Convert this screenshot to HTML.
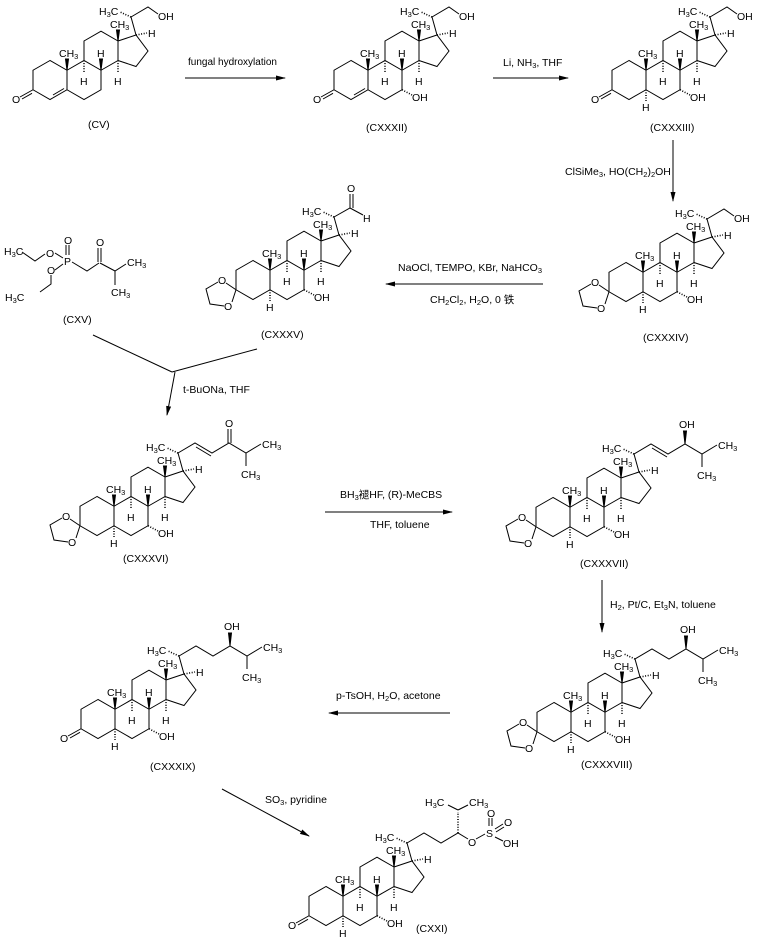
<!DOCTYPE html>
<html><head><meta charset="utf-8"><style>
html,body{margin:0;padding:0;background:#fff;}
svg{display:block;font-family:"Liberation Sans","Noto Sans CJK SC",sans-serif;font-size:10.5px;}
.b{fill:none;stroke:#000;stroke-width:1;}
.w{fill:#000;stroke:#000;stroke-width:1;}
.h{fill:none;stroke:#000;stroke-width:1.6;stroke-dasharray:1 1.6;}
.s{font-size:7.5px;}
text{fill:#000;}
.a{fill:none;stroke:#000;stroke-width:1;marker-end:url(#ah);}
</style></head><body>
<svg width="761" height="945" viewBox="0 0 761 945" xmlns="http://www.w3.org/2000/svg">
<defs><marker id="ah" markerWidth="10" markerHeight="6" refX="9" refY="3" orient="auto" markerUnits="userSpaceOnUse"><path d="M0,0.5L10,3L0,5.5Z" fill="#000"/></marker></defs>

<!-- CV -->
<g transform="translate(50,80)">
<path class="b" d="M0,-19.5L-17,-9.75L-17,9.75L0,19.5L17,9.75L17,-9.75ZM17,9.75L34,19.5L51,9.75L51,-9.75L34,-19.5L17,-9.75M34,-19.5L34,-39L51,-48.75L68,-39L68,-19.5L51,-9.75M68,-39L86,-45L98,-29L86,-13.5L68,-19.5M86,-45L81,-63"/>
<path class="w" d="M17,-9.75L15.5,-21L18.5,-21ZM68,-39L66.5,-50L69.5,-50ZM51,-9.75L49.5,-21L52.5,-21Z"/>
<path class="h" d="M34,-19.5V-8M68,-19.5V-8M86,-45L97,-47M81,-63L70,-68"/>
<text x="9" y="-23">CH<tspan class="s" dy="2">3</tspan></text><text x="60" y="-52">CH<tspan class="s" dy="2">3</tspan></text>
<text x="47" y="-23">H</text><text x="30" y="5">H</text><text x="64" y="5">H</text><text x="98" y="-43">H</text>
<text x="49" y="-65">H<tspan class="s" dy="2">3</tspan><tspan dy="-2">C</tspan></text>
<path class="b" d="M3,15L14,8.5M-17,9.75L-30,17M-18,13.3L-28,19M81,-63L98,-73L108,-66"/>
<text x="-38" y="23">O</text><text x="108" y="-60">OH</text>
</g>
<text x="88" y="128">(CV)</text>

<!-- CXXXII -->
<g transform="translate(351,80)">
<path class="b" d="M0,-19.5L-17,-9.75L-17,9.75L0,19.5L17,9.75L17,-9.75ZM17,9.75L34,19.5L51,9.75L51,-9.75L34,-19.5L17,-9.75M34,-19.5L34,-39L51,-48.75L68,-39L68,-19.5L51,-9.75M68,-39L86,-45L98,-29L86,-13.5L68,-19.5M86,-45L81,-63"/>
<path class="w" d="M17,-9.75L15.5,-21L18.5,-21ZM68,-39L66.5,-50L69.5,-50ZM51,-9.75L49.5,-21L52.5,-21Z"/>
<path class="h" d="M34,-19.5V-8M68,-19.5V-8M86,-45L97,-47M81,-63L70,-68M51,9.75L61,15"/>
<text x="9" y="-23">CH<tspan class="s" dy="2">3</tspan></text><text x="60" y="-52">CH<tspan class="s" dy="2">3</tspan></text>
<text x="47" y="-23">H</text><text x="30" y="5">H</text><text x="64" y="5">H</text><text x="98" y="-43">H</text>
<text x="49" y="-65">H<tspan class="s" dy="2">3</tspan><tspan dy="-2">C</tspan></text>
<path class="b" d="M3,15L14,8.5M-17,9.75L-30,17M-18,13.3L-28,19M81,-63L98,-73L108,-66"/>
<text x="-38" y="23">O</text><text x="108" y="-60">OH</text><text x="61" y="21">OH</text>
</g>
<text x="366" y="131">(CXXXII)</text>

<!-- CXXXIII -->
<g transform="translate(629,80)">
<path class="b" d="M0,-19.5L-17,-9.75L-17,9.75L0,19.5L17,9.75L17,-9.75ZM17,9.75L34,19.5L51,9.75L51,-9.75L34,-19.5L17,-9.75M34,-19.5L34,-39L51,-48.75L68,-39L68,-19.5L51,-9.75M68,-39L86,-45L98,-29L86,-13.5L68,-19.5M86,-45L81,-63"/>
<path class="w" d="M17,-9.75L15.5,-21L18.5,-21ZM68,-39L66.5,-50L69.5,-50ZM51,-9.75L49.5,-21L52.5,-21Z"/>
<path class="h" d="M34,-19.5V-8M68,-19.5V-8M86,-45L97,-47M81,-63L70,-68M51,9.75L61,15M17,9.75V21"/>
<text x="9" y="-23">CH<tspan class="s" dy="2">3</tspan></text><text x="60" y="-52">CH<tspan class="s" dy="2">3</tspan></text>
<text x="47" y="-23">H</text><text x="30" y="5">H</text><text x="64" y="5">H</text><text x="98" y="-43">H</text>
<text x="49" y="-65">H<tspan class="s" dy="2">3</tspan><tspan dy="-2">C</tspan></text>
<path class="b" d="M-17,9.75L-30,17M-18,13.3L-28,19M81,-63L98,-73L108,-66"/>
<text x="-38" y="23">O</text><text x="108" y="-60">OH</text><text x="61" y="21">OH</text><text x="13" y="31">H</text>
</g>
<text x="650" y="131">(CXXXIII)</text>

<!-- CXXXIV -->
<g transform="translate(626,282)">
<path class="b" d="M0,-19.5L-17,-9.75L-17,9.75L0,19.5L17,9.75L17,-9.75ZM17,9.75L34,19.5L51,9.75L51,-9.75L34,-19.5L17,-9.75M34,-19.5L34,-39L51,-48.75L68,-39L68,-19.5L51,-9.75M68,-39L86,-45L98,-29L86,-13.5L68,-19.5M86,-45L81,-63"/>
<path class="w" d="M17,-9.75L15.5,-21L18.5,-21ZM68,-39L66.5,-50L69.5,-50ZM51,-9.75L49.5,-21L52.5,-21Z"/>
<path class="h" d="M34,-19.5V-8M68,-19.5V-8M86,-45L97,-47M81,-63L70,-68M51,9.75L61,15M17,9.75V21"/>
<text x="9" y="-23">CH<tspan class="s" dy="2">3</tspan></text><text x="60" y="-52">CH<tspan class="s" dy="2">3</tspan></text>
<text x="47" y="-23">H</text><text x="30" y="5">H</text><text x="64" y="5">H</text><text x="98" y="-43">H</text>
<text x="49" y="-65">H<tspan class="s" dy="2">3</tspan><tspan dy="-2">C</tspan></text>
<path class="b" d="M-17,9.75L-27,3M-35,2L-47,9L-43,24L-29,26M-21,22L-17,9.75M81,-63L98,-73L108,-66"/>
<text x="-35" y="4">O</text><text x="-29" y="30">O</text><text x="108" y="-60">OH</text><text x="61" y="21">OH</text><text x="13" y="31">H</text>
</g>
<text x="643" y="341">(CXXXIV)</text>

<!-- CXXXV -->
<g transform="translate(253,280)">
<path class="b" d="M0,-19.5L-17,-9.75L-17,9.75L0,19.5L17,9.75L17,-9.75ZM17,9.75L34,19.5L51,9.75L51,-9.75L34,-19.5L17,-9.75M34,-19.5L34,-39L51,-48.75L68,-39L68,-19.5L51,-9.75M68,-39L86,-45L98,-29L86,-13.5L68,-19.5M86,-45L81,-63"/>
<path class="w" d="M17,-9.75L15.5,-21L18.5,-21ZM68,-39L66.5,-50L69.5,-50ZM51,-9.75L49.5,-21L52.5,-21Z"/>
<path class="h" d="M34,-19.5V-8M68,-19.5V-8M86,-45L97,-47M81,-63L70,-68M51,9.75L61,15M17,9.75V21"/>
<text x="9" y="-23">CH<tspan class="s" dy="2">3</tspan></text><text x="60" y="-52">CH<tspan class="s" dy="2">3</tspan></text>
<text x="47" y="-23">H</text><text x="30" y="5">H</text><text x="64" y="5">H</text><text x="98" y="-43">H</text>
<text x="49" y="-65">H<tspan class="s" dy="2">3</tspan><tspan dy="-2">C</tspan></text>
<path class="b" d="M-17,9.75L-27,3M-35,2L-47,9L-43,24L-29,26M-21,22L-17,9.75M81,-63L97,-72L110,-65M97,-72V-86M100,-72V-86"/>
<text x="-35" y="4">O</text><text x="-29" y="30">O</text><text x="94" y="-88">O</text><text x="110" y="-58">H</text><text x="61" y="21">OH</text><text x="13" y="31">H</text>
</g>
<text x="261" y="338">(CXXXV)</text>

<!-- CXV -->
<text x="4" y="255">H<tspan class="s" dy="2">3</tspan><tspan dy="-2">C</tspan></text>
<path class="b" d="M22,252L35,261L45,254M55,253L63,258M66,255V245M69,255V245M55,270L63,264M51,275V284L40,292M72,262L87,271L99,263M98,262V248M101,262V248M100,263L115,271L126,264M115,271V285"/>
<text x="46" y="257">O</text><text x="64" y="265">P</text><text x="64" y="244">O</text><text x="47" y="274">O</text><text x="96" y="246">O</text>
<text x="5" y="301">H<tspan class="s" dy="2">3</tspan><tspan dy="-2">C</tspan></text>
<text x="127" y="266">CH<tspan class="s" dy="2">3</tspan></text>
<text x="111" y="296">CH<tspan class="s" dy="2">3</tspan></text>
<text x="63" y="323">(CXV)</text>

<!-- CXXXVI -->
<g transform="translate(97,516)">
<path class="b" d="M0,-19.5L-17,-9.75L-17,9.75L0,19.5L17,9.75L17,-9.75ZM17,9.75L34,19.5L51,9.75L51,-9.75L34,-19.5L17,-9.75M34,-19.5L34,-39L51,-48.75L68,-39L68,-19.5L51,-9.75M68,-39L86,-45L98,-29L86,-13.5L68,-19.5M86,-45L81,-63"/>
<path class="w" d="M17,-9.75L15.5,-21L18.5,-21ZM68,-39L66.5,-50L69.5,-50ZM51,-9.75L49.5,-21L52.5,-21Z"/>
<path class="h" d="M34,-19.5V-8M68,-19.5V-8M86,-45L97,-47M81,-63L70,-68M51,9.75L61,15M17,9.75V21"/>
<text x="9" y="-23">CH<tspan class="s" dy="2">3</tspan></text><text x="60" y="-52">CH<tspan class="s" dy="2">3</tspan></text>
<text x="47" y="-23">H</text><text x="30" y="5">H</text><text x="64" y="5">H</text><text x="98" y="-43">H</text>
<text x="49" y="-65">H<tspan class="s" dy="2">3</tspan><tspan dy="-2">C</tspan></text>
<path class="b" d="M-17,9.75L-27,3M-35,2L-47,9L-43,24L-29,26M-21,22L-17,9.75M81,-63L98,-73L115,-63L132,-73L149,-63L164,-72M149,-63V-50M99,-69L114,-60M131,-73V-87M134,-73V-87"/>
<text x="-35" y="4">O</text><text x="-29" y="30">O</text><text x="128" y="-89">O</text><text x="165" y="-68">CH<tspan class="s" dy="2">3</tspan></text><text x="144" y="-38">CH<tspan class="s" dy="2">3</tspan></text><text x="61" y="21">OH</text><text x="13" y="31">H</text>
</g>
<text x="123" y="562">(CXXXVI)</text>

<!-- CXXXVII -->
<g transform="translate(553,517)">
<path class="b" d="M0,-19.5L-17,-9.75L-17,9.75L0,19.5L17,9.75L17,-9.75ZM17,9.75L34,19.5L51,9.75L51,-9.75L34,-19.5L17,-9.75M34,-19.5L34,-39L51,-48.75L68,-39L68,-19.5L51,-9.75M68,-39L86,-45L98,-29L86,-13.5L68,-19.5M86,-45L81,-63"/>
<path class="w" d="M17,-9.75L15.5,-21L18.5,-21ZM68,-39L66.5,-50L69.5,-50ZM51,-9.75L49.5,-21L52.5,-21ZM132,-73L130.5,-86L133.5,-86Z"/>
<path class="h" d="M34,-19.5V-8M68,-19.5V-8M86,-45L97,-47M81,-63L70,-68M51,9.75L61,15M17,9.75V21"/>
<text x="9" y="-23">CH<tspan class="s" dy="2">3</tspan></text><text x="60" y="-52">CH<tspan class="s" dy="2">3</tspan></text>
<text x="47" y="-23">H</text><text x="30" y="5">H</text><text x="64" y="5">H</text><text x="98" y="-43">H</text>
<text x="49" y="-65">H<tspan class="s" dy="2">3</tspan><tspan dy="-2">C</tspan></text>
<path class="b" d="M-17,9.75L-27,3M-35,2L-47,9L-43,24L-29,26M-21,22L-17,9.75M81,-63L98,-73L115,-63L132,-73L149,-63L164,-72M149,-63V-50M99,-69L114,-60"/>
<text x="-35" y="4">O</text><text x="-29" y="30">O</text><text x="126" y="-89">OH</text><text x="165" y="-68">CH<tspan class="s" dy="2">3</tspan></text><text x="144" y="-38">CH<tspan class="s" dy="2">3</tspan></text><text x="61" y="21">OH</text><text x="13" y="31">H</text>
</g>
<text x="580" y="567">(CXXXVII)</text>

<!-- CXXXVIII -->
<g transform="translate(554,722)">
<path class="b" d="M0,-19.5L-17,-9.75L-17,9.75L0,19.5L17,9.75L17,-9.75ZM17,9.75L34,19.5L51,9.75L51,-9.75L34,-19.5L17,-9.75M34,-19.5L34,-39L51,-48.75L68,-39L68,-19.5L51,-9.75M68,-39L86,-45L98,-29L86,-13.5L68,-19.5M86,-45L81,-63"/>
<path class="w" d="M17,-9.75L15.5,-21L18.5,-21ZM68,-39L66.5,-50L69.5,-50ZM51,-9.75L49.5,-21L52.5,-21ZM132,-73L130.5,-86L133.5,-86Z"/>
<path class="h" d="M34,-19.5V-8M68,-19.5V-8M86,-45L97,-47M81,-63L70,-68M51,9.75L61,15M17,9.75V21"/>
<text x="9" y="-23">CH<tspan class="s" dy="2">3</tspan></text><text x="60" y="-52">CH<tspan class="s" dy="2">3</tspan></text>
<text x="47" y="-23">H</text><text x="30" y="5">H</text><text x="64" y="5">H</text><text x="98" y="-43">H</text>
<text x="49" y="-65">H<tspan class="s" dy="2">3</tspan><tspan dy="-2">C</tspan></text>
<path class="b" d="M-17,9.75L-27,3M-35,2L-47,9L-43,24L-29,26M-21,22L-17,9.75M81,-63L98,-73L115,-63L132,-73L149,-63L164,-72M149,-63V-50"/>
<text x="-35" y="4">O</text><text x="-29" y="30">O</text><text x="126" y="-89">OH</text><text x="165" y="-68">CH<tspan class="s" dy="2">3</tspan></text><text x="144" y="-38">CH<tspan class="s" dy="2">3</tspan></text><text x="61" y="21">OH</text><text x="13" y="31">H</text>
</g>
<text x="581" y="768">(CXXXVIII)</text>

<!-- CXXXIX -->
<g transform="translate(98,719)">
<path class="b" d="M0,-19.5L-17,-9.75L-17,9.75L0,19.5L17,9.75L17,-9.75ZM17,9.75L34,19.5L51,9.75L51,-9.75L34,-19.5L17,-9.75M34,-19.5L34,-39L51,-48.75L68,-39L68,-19.5L51,-9.75M68,-39L86,-45L98,-29L86,-13.5L68,-19.5M86,-45L81,-63"/>
<path class="w" d="M17,-9.75L15.5,-21L18.5,-21ZM68,-39L66.5,-50L69.5,-50ZM51,-9.75L49.5,-21L52.5,-21ZM132,-73L130.5,-86L133.5,-86Z"/>
<path class="h" d="M34,-19.5V-8M68,-19.5V-8M86,-45L97,-47M81,-63L70,-68M51,9.75L61,15M17,9.75V21"/>
<text x="9" y="-23">CH<tspan class="s" dy="2">3</tspan></text><text x="60" y="-52">CH<tspan class="s" dy="2">3</tspan></text>
<text x="47" y="-23">H</text><text x="30" y="5">H</text><text x="64" y="5">H</text><text x="98" y="-43">H</text>
<text x="49" y="-65">H<tspan class="s" dy="2">3</tspan><tspan dy="-2">C</tspan></text>
<path class="b" d="M-17,9.75L-30,17M-18,13.3L-28,19M81,-63L98,-73L115,-63L132,-73L149,-63L164,-72M149,-63V-50"/>
<text x="-38" y="23">O</text><text x="126" y="-89">OH</text><text x="165" y="-68">CH<tspan class="s" dy="2">3</tspan></text><text x="144" y="-38">CH<tspan class="s" dy="2">3</tspan></text><text x="61" y="21">OH</text><text x="13" y="31">H</text>
</g>
<text x="150" y="770">(CXXXIX)</text>

<!-- CXXI -->
<g transform="translate(326,906)">
<path class="b" d="M0,-19.5L-17,-9.75L-17,9.75L0,19.5L17,9.75L17,-9.75ZM17,9.75L34,19.5L51,9.75L51,-9.75L34,-19.5L17,-9.75M34,-19.5L34,-39L51,-48.75L68,-39L68,-19.5L51,-9.75M68,-39L86,-45L98,-29L86,-13.5L68,-19.5M86,-45L81,-63"/>
<path class="w" d="M17,-9.75L15.5,-21L18.5,-21ZM68,-39L66.5,-50L69.5,-50ZM51,-9.75L49.5,-21L52.5,-21Z"/>
<path class="h" d="M34,-19.5V-8M68,-19.5V-8M86,-45L97,-47M81,-63L70,-68M51,9.75L61,15M17,9.75V21M132,-73V-94"/>
<text x="9" y="-23">CH<tspan class="s" dy="2">3</tspan></text><text x="60" y="-52">CH<tspan class="s" dy="2">3</tspan></text>
<text x="47" y="-23">H</text><text x="30" y="5">H</text><text x="64" y="5">H</text><text x="98" y="-43">H</text>
<text x="49" y="-65">H<tspan class="s" dy="2">3</tspan><tspan dy="-2">C</tspan></text>
<path class="b" d="M-17,9.75L-30,17M-18,13.3L-28,19M81,-63L98,-73L115,-63L132,-73L142,-67M132,-96L122,-101M132,-96L142,-101M150,-67L159,-72M163,-80V-88M166,-80V-88M169,-77L177,-82M170,-74L178,-79M169,-69L177,-65"/>
<text x="-38" y="23">O</text><text x="99" y="-100">H<tspan class="s" dy="2">3</tspan><tspan dy="-2">C</tspan></text><text x="143" y="-100">CH<tspan class="s" dy="2">3</tspan></text>
<text x="142" y="-60">O</text><text x="160" y="-69">S</text><text x="161" y="-89">O</text><text x="178" y="-80">O</text><text x="177" y="-59">OH</text>
<text x="61" y="21">OH</text><text x="13" y="31">H</text>
</g>
<text x="416" y="932">(CXXI)</text>

<!-- reactions -->
<text x="188" y="65" font-size="10">fungal hydroxylation</text>
<path class="a" d="M185,78H285"/>
<text x="503" y="66">Li, NH<tspan class="s" dy="2">3</tspan><tspan dy="-2">, THF</tspan></text>
<path class="a" d="M493,78H568"/>
<text x="565" y="175">ClSiMe<tspan class="s" dy="2">3</tspan><tspan dy="-2">, HO(CH</tspan><tspan class="s" dy="2">2</tspan><tspan dy="-2">)</tspan><tspan class="s" dy="2">2</tspan><tspan dy="-2">OH</tspan></text>
<path class="a" d="M673,140V201"/>
<text x="398" y="271">NaOCl, TEMPO, KBr, NaHCO<tspan class="s" dy="2">3</tspan></text>
<path class="a" d="M543,284H386"/>
<text x="430" y="303">CH<tspan class="s" dy="2">2</tspan><tspan dy="-2">Cl</tspan><tspan class="s" dy="2">2</tspan><tspan dy="-2">, H</tspan><tspan class="s" dy="2">2</tspan><tspan dy="-2">O, 0 铁</tspan></text>
<path class="b" d="M93,335L172,372M257,349L172,372"/>
<path class="a" d="M175,372L167,415"/>
<text x="183" y="393">t-BuONa, THF</text>
<text x="340" y="498">BH<tspan class="s" dy="2">3</tspan><tspan dy="-2">褪HF, (R)-MeCBS</tspan></text>
<path class="a" d="M325,512H452"/>
<text x="370" y="528">THF, toluene</text>
<text x="610" y="608">H<tspan class="s" dy="2">2</tspan><tspan dy="-2">, Pt/C, Et</tspan><tspan class="s" dy="2">3</tspan><tspan dy="-2">N, toluene</tspan></text>
<path class="a" d="M602,580V632"/>
<text x="336" y="699">p-TsOH, H<tspan class="s" dy="2">2</tspan><tspan dy="-2">O, acetone</tspan></text>
<path class="a" d="M450,713H329"/>
<text x="265" y="803">SO<tspan class="s" dy="2">3</tspan><tspan dy="-2">, pyridine</tspan></text>
<path class="a" d="M222,789L309,836"/>
</svg>
</body></html>
